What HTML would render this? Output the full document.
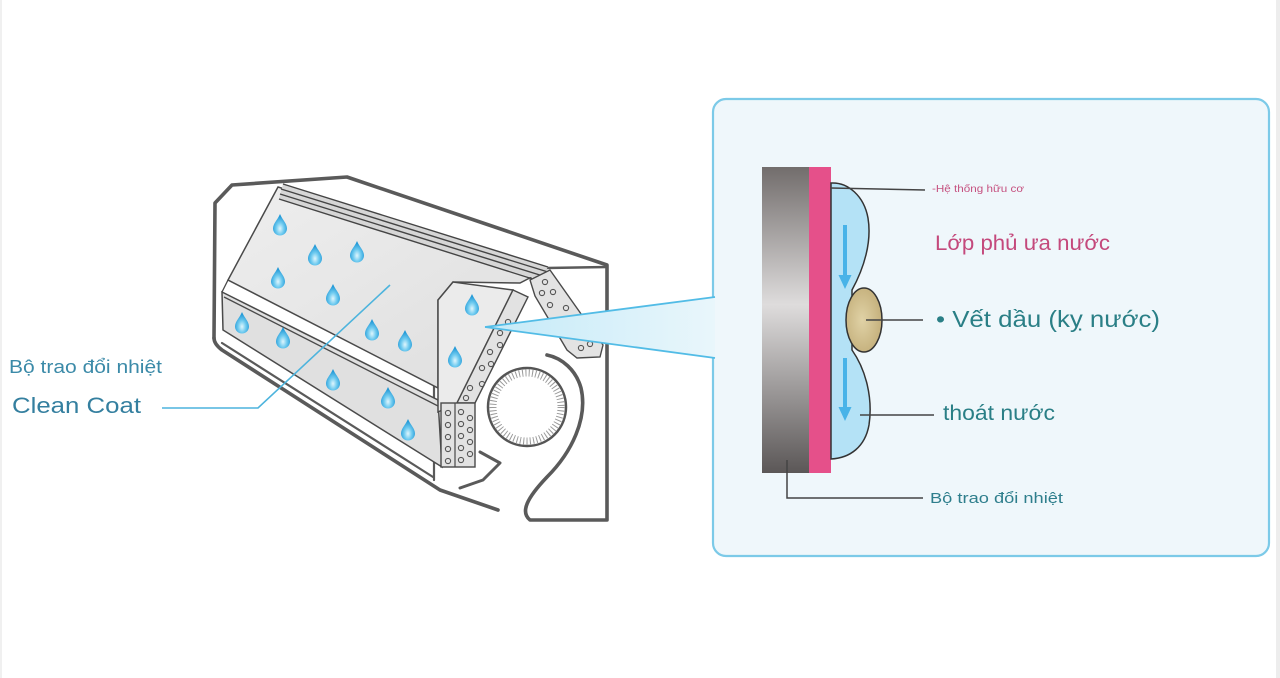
<!DOCTYPE html>
<html><head><meta charset="utf-8">
<style>
html,body{margin:0;padding:0;background:#fff;}
body{width:1280px;height:678px;overflow:hidden;}
svg{display:block}
text{font-family:"Liberation Sans","DejaVu Sans",sans-serif;}
</style></head><body>
<svg width="1280" height="678" viewBox="0 0 1280 678" xmlns="http://www.w3.org/2000/svg">
<defs>
 <radialGradient id="drop" cx="0.5" cy="0.68" r="0.6">
  <stop offset="0" stop-color="#e0f6fd"/>
  <stop offset="0.45" stop-color="#72ccf0"/>
  <stop offset="1" stop-color="#1b95d5"/>
 </radialGradient>
 <path id="d" d="M0,-11 C2.5,-5 7,-1.5 7,3.5 A7,7 0 0 1 -7,3.5 C-7,-1.5 -2.5,-5 0,-11 Z" fill="url(#drop)"/>
 <linearGradient id="bar" x1="0" y1="0" x2="0" y2="1">
  <stop offset="0" stop-color="#726d6c"/>
  <stop offset="0.45" stop-color="#dedcdc"/>
  <stop offset="1" stop-color="#5b5757"/>
 </linearGradient>
 <linearGradient id="beam" x1="0" y1="0" x2="1" y2="0">
  <stop offset="0" stop-color="#c4eaf8"/>
  <stop offset="1" stop-color="#e9f6fb"/>
 </linearGradient>
 <linearGradient id="coil" x1="0" y1="0" x2="1" y2="1">
  <stop offset="0" stop-color="#eeeeee"/>
  <stop offset="1" stop-color="#dedede"/>
 </linearGradient>
 <radialGradient id="oil" cx="0.45" cy="0.5" r="0.6">
  <stop offset="0" stop-color="#e0d2a6"/>
  <stop offset="1" stop-color="#c2ad78"/>
 </radialGradient>
</defs>

<!-- page edges -->
<rect x="0" y="0" width="2" height="678" fill="#f0f0f0"/>
<rect x="1276" y="0" width="4" height="678" fill="#ededed"/>

<!-- ===== AC unit ===== -->
<g fill="none" stroke="#5a5a5a" stroke-width="3.6" stroke-linejoin="round" stroke-linecap="round">
 <!-- outer housing -->
 <path d="M214,338 L215,203 L232,185 L347,177 L607,265 L607,520 L530,520 C520,512 527,498 547,477 C572,452 588,418 581,388 C576,370 562,358 547,355"/>
 <path d="M214,338 Q214,344 222,350 L440,490 L498,510"/>
 <path d="M222,343 L433,477" stroke-width="2.2"/>
 <path d="M547,268 L607,267" stroke-width="2.4"/>
 <path d="M434,300 L434,480" stroke-width="2.2"/>
 <!-- drip hook -->
 <path d="M480,452 L500,463 L483,480 L460,488" stroke-width="3"/>
</g>

<!-- coil upper panel -->
<polygon points="278,187 545,270 520,283 453,282 438,300 438,388 228,280" fill="url(#coil)" stroke="#4a4a4a" stroke-width="1.5"/>
<!-- coil lower panel -->
<polygon points="222,292 438,400 442,467 223,330" fill="#e0e0e0" stroke="#4a4a4a" stroke-width="1.5"/>
<g stroke="#4a4a4a" stroke-width="1.3" fill="none">
 <line x1="224" y1="297" x2="438" y2="406"/>
 <line x1="228" y1="280" x2="222" y2="292"/>
</g>
<!-- top ridges -->
<polygon points="283,184 548,267 540,280 279,199" fill="#d6d6d6"/>
<g stroke="#444" stroke-width="1.4" fill="none">
 <line x1="283" y1="184" x2="548" y2="267"/>
 <line x1="281" y1="189" x2="548" y2="272"/>
 <line x1="280" y1="194" x2="543" y2="276"/>
 <line x1="279" y1="199" x2="536" y2="280"/>
</g>

<!-- end plate -->
<polygon points="438,300 453,282 513,290 457,403 438,412" fill="#ebebeb" stroke="#4a4a4a" stroke-width="1.5"/>
<!-- diagonal perforated strip -->
<polygon points="513,290 528,297 475,403 457,403" fill="#e2e2e2" stroke="#4a4a4a" stroke-width="1.4"/>
<!-- lower vertical strip -->
<rect x="441" y="403" width="34" height="64" fill="#e2e2e2" stroke="#4a4a4a" stroke-width="1.4"/>
<line x1="455" y1="403" x2="455" y2="467" stroke="#4a4a4a" stroke-width="1.2"/>
<!-- rear strip -->
<polygon points="530,280 550,270 603,345 600,357 577,358 567,350 535,296" fill="#e3e3e3" stroke="#4a4a4a" stroke-width="1.4"/>

<g fill="none" stroke="#555" stroke-width="1.1">
 <circle cx="500" cy="333" r="2.6"/><circle cx="508" cy="322" r="2.6"/>
 <circle cx="490" cy="352" r="2.6"/><circle cx="500" cy="345" r="2.6"/>
 <circle cx="482" cy="368" r="2.6"/><circle cx="491" cy="364" r="2.6"/>
 <circle cx="470" cy="388" r="2.6"/><circle cx="482" cy="384" r="2.6"/>
 <circle cx="466" cy="398" r="2.6"/>
 <circle cx="448" cy="413" r="2.6"/><circle cx="448" cy="425" r="2.6"/><circle cx="448" cy="437" r="2.6"/><circle cx="448" cy="449" r="2.6"/><circle cx="448" cy="461" r="2.6"/>
 <circle cx="461" cy="412" r="2.6"/><circle cx="461" cy="424" r="2.6"/><circle cx="461" cy="436" r="2.6"/><circle cx="461" cy="448" r="2.6"/><circle cx="461" cy="460" r="2.6"/>
 <circle cx="470" cy="418" r="2.6"/><circle cx="470" cy="430" r="2.6"/><circle cx="470" cy="442" r="2.6"/><circle cx="470" cy="454" r="2.6"/>
 <circle cx="542" cy="293" r="2.6"/><circle cx="553" cy="292" r="2.6"/>
 <circle cx="550" cy="305" r="2.6"/><circle cx="566" cy="308" r="2.6"/>
 <circle cx="572" cy="322" r="2.6"/><circle cx="582" cy="335" r="2.6"/>
 <circle cx="581" cy="348" r="2.6"/><circle cx="545" cy="282" r="2.6"/>
 <circle cx="590" cy="344" r="2.6"/>
</g>

<!-- fan -->
<circle cx="527" cy="407" r="39" fill="#fff" stroke="#555" stroke-width="2.5"/>
<circle cx="527" cy="407" r="34" fill="none" stroke="#9a9a9a" stroke-width="7" stroke-dasharray="1 2.3"/>
<circle cx="527" cy="407" r="30" fill="#fff"/>

<!-- drops -->
<use href="#d" x="280" y="225"/><use href="#d" x="315" y="255"/><use href="#d" x="357" y="252"/>
<use href="#d" x="278" y="278"/><use href="#d" x="333" y="295"/><use href="#d" x="242" y="323"/>
<use href="#d" x="283" y="338"/><use href="#d" x="372" y="330"/><use href="#d" x="405" y="341"/>
<use href="#d" x="333" y="380"/><use href="#d" x="388" y="398"/><use href="#d" x="408" y="430"/>
<use href="#d" x="472" y="305"/><use href="#d" x="455" y="357"/>

<!-- left leader -->
<polyline points="162,408 258,408 390,285" fill="none" stroke="#4db4dd" stroke-width="1.6"/>
<text x="9" y="373" font-size="18" fill="#3b8aa8" textLength="153" lengthAdjust="spacingAndGlyphs">Bộ trao đổi nhiệt</text>
<text x="12" y="413" font-size="22" fill="#347f9f" textLength="129" lengthAdjust="spacingAndGlyphs">Clean Coat</text>

<!-- ===== zoom box ===== -->
<rect x="713" y="99" width="556" height="457" rx="13" ry="13" fill="#eff7fb" stroke="#7ccae8" stroke-width="2.2"/>
<!-- beam -->
<polygon points="485,327 715,297 715,358" fill="url(#beam)"/>
<line x1="485" y1="327" x2="715" y2="297" stroke="#52bce6" stroke-width="1.8"/>
<line x1="485" y1="327" x2="715" y2="358" stroke="#52bce6" stroke-width="1.8"/>

<!-- layers -->
<rect x="762" y="167" width="47" height="306" fill="url(#bar)"/>
<rect x="809" y="167" width="22" height="306" fill="#e5508a"/>
<path d="M831,183 C848,182 864,196 868,218 C872,242 864,268 852,290 L852,350 C866,370 873,398 869,425 C865,447 850,458 831,459 Z" fill="#b4e2f6" stroke="#333" stroke-width="1.5"/>
<ellipse cx="864" cy="320" rx="18" ry="32" fill="url(#oil)" stroke="#333" stroke-width="1.5"/>
<!-- arrows -->
<g fill="#48b3e8" stroke="none">
 <rect x="843" y="225" width="4" height="53"/>
 <polygon points="838.5,275 851.5,275 845,289"/>
 <rect x="843" y="358" width="4" height="52"/>
 <polygon points="838.5,407 851.5,407 845,421"/>
</g>
<!-- leaders -->
<g stroke="#444" stroke-width="1.5" fill="none">
 <line x1="831" y1="188" x2="925" y2="190"/>
 <line x1="866" y1="320" x2="923" y2="320"/>
 <line x1="860" y1="415" x2="934" y2="415"/>
 <polyline points="787,460 787,498 923,498"/>
</g>
<text x="932" y="192" font-size="10" fill="#c5507f" textLength="92" lengthAdjust="spacingAndGlyphs">-Hệ thống hữu cơ</text>
<text x="935" y="250" font-size="21" fill="#c4497c" textLength="175" lengthAdjust="spacingAndGlyphs">Lớp phủ ưa nước</text>
<text x="936" y="327" font-size="23" fill="#2a7f86" textLength="224" lengthAdjust="spacingAndGlyphs">• Vết dầu (kỵ nước)</text>
<text x="943" y="420" font-size="21" fill="#2a7f86" textLength="112" lengthAdjust="spacingAndGlyphs">thoát nước</text>
<text x="930" y="503" font-size="15" fill="#2e7e8c" textLength="133" lengthAdjust="spacingAndGlyphs">Bộ trao đổi nhiệt</text>
</svg>
</body></html>
